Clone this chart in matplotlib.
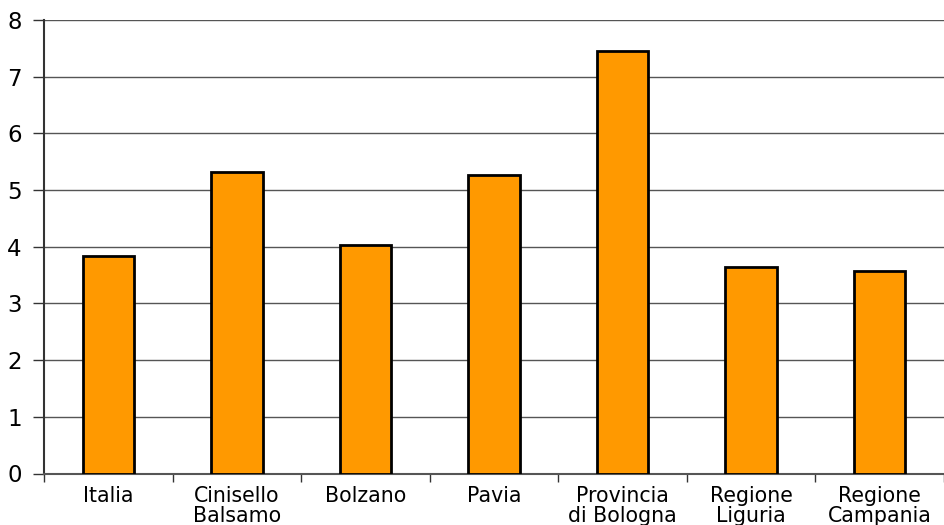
import numpy as np
import matplotlib.pyplot as plt

labels = ['Italia', 'Cinisello\nBalsamo', 'Bolzano', 'Pavia',
          'Provincia\ndi Bologna', 'Regione\nLiguria', 'Regione\nCampania']
values = [3.83, 5.32, 4.03, 5.27, 7.46, 3.64, 3.57]

fig = plt.figure(figsize=(9.44, 5.25), dpi=100)
ax = fig.add_axes([44/944, 51.5/525, 900/944, 453.5/525])

x = np.arange(len(labels))
ax.bar(x, values, width=0.4, color='#FF9900', edgecolor='black', linewidth=2, zorder=3)

ax.set_xlim(-0.5, len(labels) - 0.5)
ax.set_ylim(0, 8)
ax.set_yticks(range(0, 9))
ax.yaxis.grid(True, color='#555555', linewidth=1, zorder=0)

# category labels centred, tick marks on the boundaries
ax.set_xticks(x)
ax.set_xticklabels(labels, fontsize=14.8, linespacing=0.98)
ax.tick_params(axis='x', length=0, pad=9)
ax.set_xticks(np.arange(-0.5, len(labels), 1), minor=True)
ax.tick_params(axis='x', which='minor', length=6, width=1, color='#333333', direction='out')
ax.tick_params(axis='y', labelsize=16.5, length=8, width=1, color='#333333', pad=8)

for s in ['top', 'right']:
    ax.spines[s].set_visible(False)
ax.spines['left'].set_color('#333333')
ax.spines['left'].set_linewidth(1.5)
ax.spines['bottom'].set_color('#555555')
ax.spines['bottom'].set_linewidth(1.5)

fig.savefig('out.png', dpi=100)
